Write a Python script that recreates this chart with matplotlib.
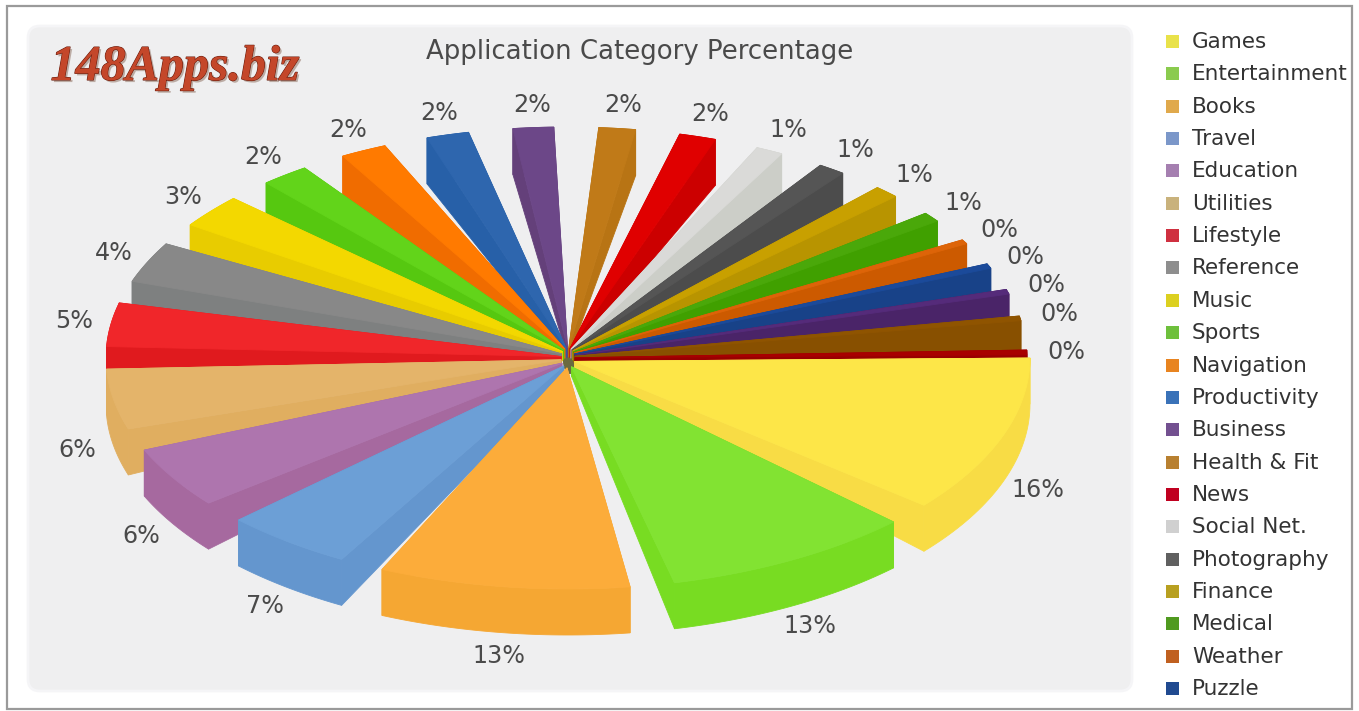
"""
Application category share, drawn as a tilted 3D pie with separated wedges.
Wedges are built by hand as polygons since matplotlib has no 3D pie.
"""

import numpy as np
import matplotlib
matplotlib.use("Agg")
import matplotlib.pyplot as plt
import matplotlib.patheffects as pe
from matplotlib.patches import Ellipse, FancyBboxPatch, Polygon, Rectangle

TITLE = "Application Category Percentage"
LOGO = "148Apps.biz"

# the legend in the picture is cut off after Puzzle, the last three wedges have no name
legend_labels = [
    "Games", "Entertainment", "Books", "Travel", "Education", "Utilities", "Lifestyle",
    "Reference", "Music", "Sports", "Navigation", "Productivity", "Business", "Health & Fit",
    "News", "Social Net.", "Photography", "Finance", "Medical", "Weather", "Puzzle",
]
values = [
    16.3, 12.95, 12.95, 6.64, 6.35, 6.23, 4.51, 4.2, 3.49, 2.49, 2.4, 2.2,
    2.1, 1.9, 1.9, 1.4, 1.4, 1.3, 1.0, 0.45, 0.49, 0.49, 0.49, 0.49,
]
top_colors = [
    "#FDE648", "#82E332", "#FCAC3A", "#6C9FD6", "#AE75AE", "#E4B46A", "#F0262A", "#888888",
    "#F3D800", "#62D41A", "#FF7A00", "#2E66AE", "#6C4788", "#C07A18", "#E00000", "#DADAD8",
    "#555555", "#C8A000", "#4AA80A", "#DD6408", "#1B4A9A", "#552B7A", "#8F5400", "#A80000",
]
wall_colors = [
    "#F8DC45", "#78DC22", "#F5A733", "#6496CE", "#A6699F", "#E0AE60", "#E01A1E", "#7E8080",
    "#E8CC00", "#56C810", "#F06C00", "#2760A8", "#64407A", "#B87414", "#CC0000", "#CCCEC8",
    "#4C4C4C", "#B89400", "#40A000", "#CC5A00", "#184288", "#4A2468", "#885000", "#980000",
]
legend_colors = [
    "#E9E24A", "#8ACB4E", "#E0A94C", "#7B97C9", "#A57FB0", "#C9B27C", "#CF3040",
    "#8E8E8E", "#DCD020", "#6EC03C", "#E88420", "#3A72B8", "#735090", "#B88030",
    "#C00020", "#D0D0D0", "#606060", "#B8A020", "#509A20", "#C06020", "#204A90",
]

# pie geometry in picture pixels
CX, CY = 568, 358
RX, RY = 462, 231
DEPTH = 46
GAP = 5.6
APEX_X, APEX_Y = 7, 10
BACK_SHRINK = 1.5
TEXT_COLOR = "#4A4A4A"


def wedge_angles():
    """Start and end angle of each wedge, clockwise on screen from 3 o'clock."""
    # the last wedge sits further from the one before and almost touches the first
    gaps = [GAP] * (len(values) - 2) + [GAP + 1.7, 0.8]
    scale = (360 - sum(gaps)) / sum(values)
    angles, start = [], 0.0
    for v, gap in zip(values, gaps):
        angles.append((start, start + v * scale))
        start += v * scale + gap
    return angles


def draw_wedge(ax, start, end, top, wall):
    mid = np.radians((start + end) / 2)
    apex = (CX + APEX_X * np.cos(mid), CY + APEX_Y * np.sin(mid))
    apex_low = (apex[0], apex[1] + DEPTH * 0.2)

    # wedges in the back half reach a little less far on the right
    cx, rx = CX, RX
    if np.sin(mid) < 0:
        cx, rx = CX - BACK_SHRINK, RX - BACK_SHRINK

    t = np.radians(np.linspace(start, end, 40))
    xs = cx + rx * np.cos(t)
    ys = CY + RY * np.sin(t)
    outer = np.column_stack([xs, ys])
    outer_low = outer + [0, DEPTH]

    walls = [
        np.vstack([outer, outer_low[::-1]]),
        np.vstack([apex, outer[0], outer_low[0], apex_low]),
        np.vstack([apex, outer[-1], outer_low[-1], apex_low]),
    ]
    for pts in walls:
        ax.add_patch(Polygon(pts, closed=True, fc=wall, ec=wall, lw=0.6))
    ax.add_patch(Polygon(np.vstack([apex, outer]), closed=True, fc=top, ec=top, lw=0.6))


def main():
    fig = plt.figure(figsize=(13.59, 7.11), dpi=100, facecolor="white")
    ax = fig.add_axes([0, 0, 1, 1])
    ax.set_xlim(0, 1359)
    ax.set_ylim(711, 0)
    ax.axis("off")

    ax.add_patch(Rectangle((7, 6), 1345, 703, fc="white", ec="#9A9A9A", lw=1.6))
    ax.add_patch(FancyBboxPatch((28, 26), 1104, 665, boxstyle="round,pad=0,rounding_size=12",
                                mutation_aspect=1, fc="#EFEFF0", ec="#F5F5F7", lw=2))

    ax.text(640, 52, TITLE, fontsize=18.7, color=TEXT_COLOR, ha="center", va="center")

    logo = ax.text(175, 68, LOGO, family="Liberation Serif", style="italic", weight="bold",
                   fontsize=36, color="#C4472A", ha="center", va="center")
    logo.set_path_effects([
        pe.withSimplePatchShadow(offset=(1.5, -1.5), shadow_rgbFace="#8A6A5A", alpha=0.5),
        pe.withStroke(linewidth=0.8, foreground="#6B1F10"),
    ])

    # the wedge tips leave a small hole in the middle, dark in the picture
    ax.add_patch(Ellipse((CX + 2, CY + 3), 14, 26, fc="#6A6A40", ec="none"))

    angles = wedge_angles()
    # back wedges first so the front ones cover them
    order = sorted(range(len(values)), key=lambda i: np.sin(np.radians(sum(angles[i]) / 2)))
    for i in order:
        draw_wedge(ax, angles[i][0], angles[i][1], top_colors[i], wall_colors[i])

    for (start, end), v in zip(angles, values):
        mid = np.radians((start + end) / 2)
        x = CX + 1.08 * RX * np.cos(mid)
        y = CY + 1.1 * RY * np.sin(mid)
        if np.sin(mid) > 0:
            y += DEPTH
        ax.text(x, y, f"{v:.0f}%", fontsize=17.2, color=TEXT_COLOR, ha="center", va="center")

    legend_y = np.linspace(42, 689, len(legend_labels))
    for name, color, y in zip(legend_labels, legend_colors, legend_y):
        ax.add_patch(Rectangle((1166, y - 7), 13, 13, fc=color, ec="none"))
        ax.text(1192, y, name, fontsize=15.5, color="#333333", ha="left", va="center")

    fig.savefig("out.png", dpi=100)
    plt.close(fig)


if __name__ == "__main__":
    main()
